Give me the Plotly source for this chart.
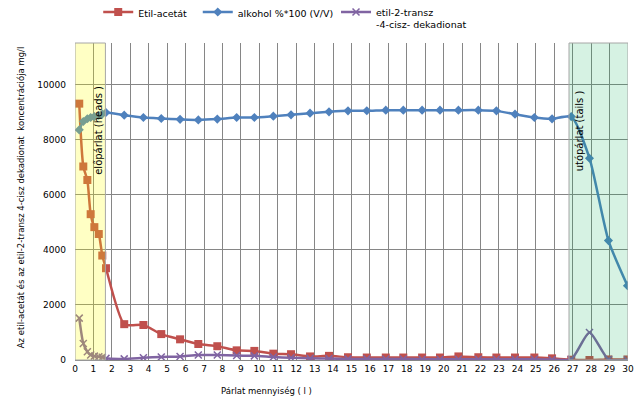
import plotly.graph_objects as go

# ---------------- data ----------------
x_liters = [0.23, 0.45, 0.67, 0.85, 1.05, 1.29, 1.48, 1.68,
            2.67, 3.71, 4.68, 5.70, 6.69, 7.72, 8.77, 9.73, 10.76, 11.72,
            12.75, 13.78, 14.81, 15.83, 16.86, 17.81, 18.83, 19.80, 20.80,
            21.88, 22.86, 23.87, 24.92, 25.88, 26.92, 27.91, 28.94, 29.97]

etil_acetat = [9300, 7020, 6530, 5290, 4820, 4570, 3790, 3330,
               1300, 1270, 940, 750, 580, 500, 350, 330, 230, 210,
               130, 150, 100, 90, 90, 90, 90, 90, 130,
               100, 90, 90, 90, 60, 10, 0, 20, 20]

alkohol = [8350, 8650, 8750, 8800, 8830, 8870, 8920, 8980,
           8882, 8795, 8759, 8730, 8710, 8740, 8795, 8800, 8846, 8893,
           8955, 9002, 9038, 9040, 9064, 9064, 9064, 9064, 9064,
           9064, 9038, 8918, 8795, 8748, 8830, 7321, 4331, 2697]

dekadionat = [1520, 600, 300, 180, 140, 120, 100, 60,
              40, 80, 110, 130, 180, 180, 160, 150, 110, 80,
              60, 50, 40, 40, 35, 35, 30, 30, 30,
              30, 30, 25, 25, 20, 30, 1000, 20, 0]

series_names = ["Etil-acetát", "alkohol %*100 (V/V)",
                "etil-2-transz<br>-4-cisz- dekadionat"]

x_ticks = list(range(0, 31))
y_ticks = [0, 2000, 4000, 6000, 8000, 10000]

heads_region = [0, 1.65]
tails_region = [26.8, 30]
region_labels = ["előpárlat (heads )", "utópárlat (tails )"]

x_title = "Párlat mennyiség ( l )"
y_title = "Az etil-acetát és az etil-2-transz 4-cisz dekadionat  koncentrációja mg/l"

# ---------------- figure ----------------
FONT = "DejaVu Sans"
RED = "#C0504D"
BLUE = "#4F81BD"
PURPLE = "#8064A2"

fig = go.Figure()

fig.add_trace(go.Scatter(
    x=x_liters, y=etil_acetat, name=series_names[0], mode="lines+markers",
    line=dict(color=RED, width=2.5, shape="spline", smoothing=0.6),
    marker=dict(symbol="square", size=8, color=RED),
    legend="legend", showlegend=True))

fig.add_trace(go.Scatter(
    x=x_liters, y=alkohol, name=series_names[1], mode="lines+markers",
    line=dict(color=BLUE, width=2.5, shape="spline", smoothing=0.6),
    marker=dict(symbol="diamond", size=7, color=BLUE),
    legend="legend2", showlegend=True))

fig.add_trace(go.Scatter(
    x=x_liters, y=dekadionat, name=series_names[2], mode="lines+markers",
    line=dict(color=PURPLE, width=2.5, shape="spline", smoothing=0.6),
    marker=dict(symbol="x-thin-open", size=7, color=PURPLE,
                line=dict(color=PURPLE, width=1.5)),
    legend="legend3", showlegend=True))

# shaded regions (semi-transparent, drawn over the lines as in the original)
fig.add_shape(type="rect", xref="x", yref="paper",
              x0=heads_region[0], x1=heads_region[1], y0=0, y1=1,
              fillcolor="rgba(255,255,0,0.23)",
              line=dict(color="#A6A6A6", width=1), layer="above")
fig.add_shape(type="rect", xref="x", yref="paper",
              x0=tails_region[0], x1=tails_region[1], y0=0, y1=1,
              fillcolor="rgba(0,176,80,0.16)",
              line=dict(color="#A6A6A6", width=1), layer="above")

fig.add_annotation(x=1.3, y=8350, xref="x", yref="y", text=region_labels[0],
                   textangle=-90, showarrow=False,
                   font=dict(family=FONT, size=10, color="black"))
fig.add_annotation(x=27.35, y=8300, xref="x", yref="y", text=region_labels[1],
                   textangle=-90, showarrow=False,
                   font=dict(family=FONT, size=10, color="black"))

# axis titles
fig.add_annotation(x=-0.11, y=0.514, xref="paper", yref="paper", text=y_title,
                   textangle=-90, showarrow=False,
                   font=dict(family=FONT, size=8.5, color="black"))
fig.add_annotation(x=0.347, y=-0.098, xref="paper", yref="paper", text=x_title,
                   showarrow=False, yanchor="middle", xanchor="center",
                   font=dict(family=FONT, size=8.5, color="black"))

legend_common = dict(orientation="v", yanchor="top", xanchor="left",
                     bgcolor="rgba(0,0,0,0)", valign="top",
                     font=dict(family=FONT, size=9.5, color="black"),
                     itemwidth=30, tracegroupgap=0)

fig.update_layout(
    width=642, height=402,
    margin=dict(l=75, r=14, t=43, b=42, autoexpand=False),
    paper_bgcolor="white", plot_bgcolor="white",
    showlegend=True,
    font=dict(family=FONT, size=9, color="black"),
    legend=dict(x=0.042, y=1.138, **legend_common),
    legend2=dict(x=0.222, y=1.138, **legend_common),
    legend3=dict(x=0.472, y=1.138, **legend_common),
    xaxis=dict(range=[0, 30], tickvals=x_ticks, showgrid=True,
               gridcolor="#868686", gridwidth=1, zeroline=False,
               showline=True, linecolor="#868686", mirror=False,
               ticks="", tickfont=dict(family=FONT, size=9, color="black")),
    yaxis=dict(range=[0, 11500], tickvals=y_ticks, tickformat="d",
               showgrid=True,
               gridcolor="#868686", gridwidth=1, zeroline=False,
               showline=False, ticks="", ticklabelstandoff=8,
               tickfont=dict(family=FONT, size=9, color="black")),
)

fig.write_html("out.html",
               config={"displayModeBar": False},
               post_script="document.body.style.margin='0';document.body.style.overflow='hidden';")
